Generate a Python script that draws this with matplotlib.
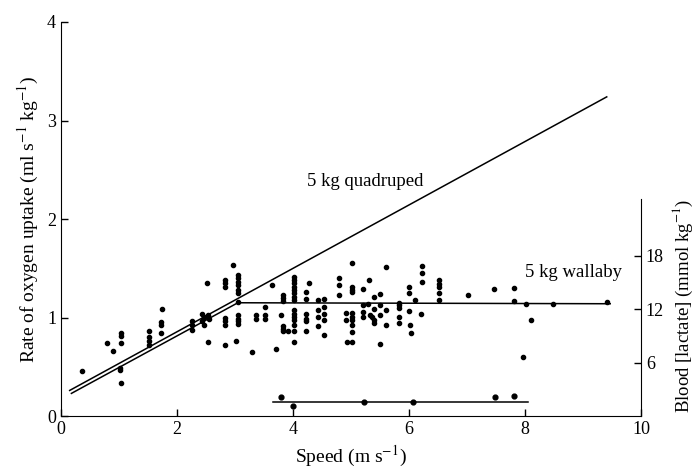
import matplotlib

matplotlib.use('Agg')
import matplotlib.pyplot as plt
import numpy as np

plt.rcParams['font.family'] = ['Liberation Serif', 'DejaVu Serif']
plt.rcParams['mathtext.fontset'] = 'stix'

# wallaby oxygen uptake points (speed m/s, ml s-1 kg-1)
o2_x = [0.37, 0.80, 0.89, 1.03, 1.03, 1.03, 1.02, 1.02, 1.03,
        1.51, 1.51, 1.51, 1.51, 1.72, 1.72, 1.72, 1.75,
        2.26, 2.26, 2.26, 2.44, 2.44, 2.47, 2.47, 2.53, 2.56, 2.51, 2.53,
        2.82, 2.82, 2.82, 2.82, 2.82, 2.82, 2.82, 2.97,
        3.05, 3.05, 3.05, 3.05, 3.05, 3.05, 3.05, 3.05, 3.05, 3.05, 3.05, 3.02,
        3.30, 3.36, 3.36, 3.51, 3.51, 3.51, 3.63, 3.71,
        3.83, 3.83, 3.83, 3.80, 3.82, 3.82, 3.82, 3.92,
        4.02, 4.02, 4.02, 4.02, 4.02, 4.02, 4.02, 4.02,
        4.02, 4.02, 4.02, 4.02, 4.02, 4.02, 4.02,
        4.28, 4.22, 4.22, 4.22, 4.22, 4.22, 4.22,
        4.43, 4.43, 4.43, 4.43, 4.53, 4.53, 4.53, 4.53, 4.53,
        4.80, 4.80, 4.80, 4.91, 4.91, 4.93,
        5.01, 5.01, 5.01, 5.01, 5.01, 5.01, 5.01, 5.01, 5.01, 5.02,
        5.20, 5.20, 5.20, 5.20, 5.31, 5.30, 5.33, 5.37, 5.40, 5.40, 5.39, 5.39,
        5.50, 5.50, 5.50, 5.50, 5.60, 5.61, 5.61,
        5.82, 5.82, 5.82, 5.82, 5.82,
        6.00, 6.00, 6.00, 6.02, 6.03, 6.10, 6.20, 6.22, 6.22, 6.22,
        6.52, 6.52, 6.52, 6.52, 6.52, 7.02, 7.47, 7.81, 7.81,
        8.02, 8.11, 7.96, 8.48, 9.41]
o2_y = [0.46, 0.74, 0.66, 0.84, 0.81, 0.74, 0.49, 0.47, 0.34,
        0.86, 0.80, 0.76, 0.72, 0.95, 0.92, 0.84, 1.09,
        0.96, 0.92, 0.87, 1.04, 0.96, 1.01, 0.92, 1.03, 0.99, 1.35, 0.75,
        1.38, 1.35, 1.31, 1.00, 0.96, 0.92, 0.72, 1.53,
        1.43, 1.40, 1.36, 1.33, 1.28, 1.25, 1.16, 1.03, 0.99, 0.96, 0.93, 0.76,
        0.65, 1.03, 0.99, 1.11, 1.03, 0.99, 1.33, 0.68,
        1.23, 1.20, 1.17, 1.03, 0.91, 0.88, 0.86, 0.86,
        1.41, 1.38, 1.35, 1.31, 1.28, 1.25, 1.21, 1.18,
        1.08, 1.04, 1.01, 0.97, 0.92, 0.86, 0.75,
        1.35, 1.26, 1.19, 1.04, 0.99, 0.96, 0.86,
        1.18, 1.08, 1.01, 0.91, 1.19, 1.11, 1.04, 0.97, 0.82,
        1.40, 1.33, 1.23, 1.05, 0.97, 0.75,
        1.31, 1.28, 1.26, 1.05, 1.01, 0.97, 0.92, 0.85, 0.75, 1.55,
        1.29, 1.13, 1.06, 1.01, 1.38, 1.14, 1.03, 1.01, 0.97, 0.94, 1.09, 1.21,
        1.24, 1.13, 1.03, 0.73, 1.51, 1.08, 0.92,
        1.15, 1.13, 1.10, 1.01, 0.94,
        1.31, 1.25, 1.07, 0.92, 0.84, 1.18, 1.04, 1.52, 1.45, 1.36,
        1.38, 1.34, 1.31, 1.25, 1.18, 1.23, 1.29, 1.30, 1.17,
        1.14, 0.97, 0.60, 1.14, 1.16]

# blood lactate points (speed m/s, mmol kg-1)
lac_x = [3.80, 4.00, 5.23, 6.07, 7.48, 7.81]
lac_y = [2.1, 1.1, 1.55, 1.55, 2.1, 2.2]
lac_line_x = [3.65, 8.05]
lac_line_y = [1.57, 1.57]

# fitted lines
quad_x = [0.15, 9.41]
quad_y = [0.26, 3.24]
wal_x = [0.18, 3.05, 9.47]
wal_y = [0.23, 1.15, 1.14]

fig = plt.figure(figsize=(6.96, 4.68), dpi=100)
ax = fig.add_axes([0.0876, 0.111, 0.8333, 0.842])

ax.plot(quad_x, quad_y, color='black', lw=1.1)
ax.plot(wal_x, wal_y, color='black', lw=1.1)
ax.scatter(o2_x, o2_y, s=9, color='black', zorder=3)

ax.set_xlim(0, 10)
ax.set_ylim(0, 4)
ax.set_xticks([0, 2, 4, 6, 8, 10])
ax.set_yticks([0, 1, 2, 3, 4])
ax.tick_params(direction='in', length=5, labelsize=13, width=1)
ax.spines['top'].set_visible(False)
ax.spines['right'].set_visible(False)
ax.set_xlabel('Speed (m s$^{-1}$)', fontsize=14)
ax.set_ylabel('Rate of oxygen uptake (ml s$^{-1}$ kg$^{-1}$)', fontsize=14)

ax.text(4.24, 2.38, '5 kg quadruped', fontsize=13.5, va='center')
ax.text(8.0, 1.46, '5 kg wallaby', fontsize=13.5, va='center')

ax2 = ax.twinx()
ax2.set_ylim(0, 4 / 0.0905)
ax2.plot(lac_line_x, lac_line_y, color='black', lw=1.1)
ax2.scatter(lac_x, lac_y, s=12, color='black', zorder=3)
ax2.set_yticks([6, 12, 18])
ax2.spines['top'].set_visible(False)
ax2.spines['left'].set_visible(False)
ax2.spines['bottom'].set_visible(False)
ax2.spines['right'].set_bounds(0, 24.4)
ax2.tick_params(direction='in', length=5, labelsize=13, width=1)
ax2.set_ylabel('Blood [lactate] (mmol kg$^{-1}$)', fontsize=13.5)
ax2.yaxis.set_label_coords(1.052, 0.28)

plt.savefig('out.png', dpi=100)
